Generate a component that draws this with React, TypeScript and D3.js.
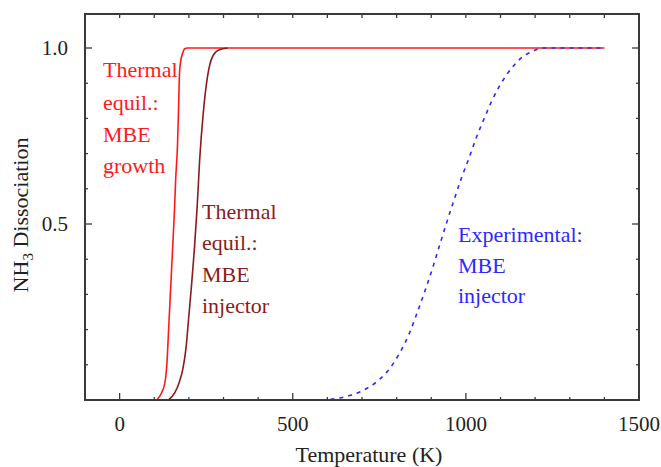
import React from "react";
import * as d3 from "d3";

// Temperature (K) / dissociation fraction pairs for each curve
const growthT = [107, 121, 131, 137, 141, 147, 153, 158, 162, 167, 170, 173, 176, 182, 188, 196, 1400];
const growthV = [0, 0.02, 0.05, 0.11, 0.19, 0.31, 0.43, 0.53, 0.63, 0.72, 0.82, 0.93, 0.96, 0.985, 0.998, 1.0, 1.0];

const injectorT = [141, 159, 172, 183, 192, 200, 208, 216, 224, 231, 242, 254, 268, 288, 312];
const injectorV = [0, 0.02, 0.05, 0.09, 0.15, 0.24, 0.33, 0.43, 0.55, 0.68, 0.82, 0.92, 0.975, 0.995, 1.0];

const expT = [583, 625, 669, 721, 750, 779, 808, 837, 860, 880, 903, 923, 940, 963, 987, 1010, 1030, 1053, 1076, 1096, 1113, 1134, 1160, 1191, 1220, 1395];
const expV = [0, 0.004, 0.014, 0.037, 0.058, 0.088, 0.132, 0.19, 0.25, 0.305, 0.372, 0.436, 0.49, 0.56, 0.63, 0.69, 0.745, 0.8, 0.852, 0.89, 0.917, 0.945, 0.972, 0.99, 1.0, 1.0];

const xMajorTicks = [0, 500, 1000, 1500];
const xMinorTicks = d3.range(-100, 1501, 100);
const yMajorTicks = [0.5, 1.0];
const yMinorTicks = d3.range(1, 11).map((i) => i / 10);

const W = 661;
const H = 467;
const left = 85;
const right = 639;
const top = 14;
const bottom = 400;

const FONT = "Liberation Serif, Tinos, Times New Roman, DejaVu Serif, serif";

export default function App() {
  const x = d3.scaleLinear().domain([-100, 1500]).range([left, right]);
  const y = d3.scaleLinear().domain([0, 1.0966]).range([bottom, top]);

  const line = d3
    .line<[number, number]>()
    .x((d) => x(d[0]))
    .y((d) => y(d[1]))
    .curve(d3.curveMonotoneX);

  const zip = (a: number[], b: number[]) => a.map((t, i) => [t, b[i]] as [number, number]);

  const axisColor = "#3a3a3a";
  const majorLen = 7;
  const minorLen = 3;

  const red = "#ff1a1a";
  const darkRed = "#8a1c1c";
  const blue = "#2a2aff";

  const textStyle = { fontFamily: FONT };

  return (
    <svg width={W} height={H} style={{ position: "absolute", left: 0, top: 0, background: "#fff" }}>
      {/* curves */}
      <path d={line(zip(growthT, growthV)) || ""} fill="none" stroke={red} strokeWidth={1.6} />
      <path d={line(zip(injectorT, injectorV)) || ""} fill="none" stroke={darkRed} strokeWidth={1.6} />
      <path
        d={line(zip(expT, expV)) || ""}
        fill="none"
        stroke={blue}
        strokeWidth={1.6}
        strokeDasharray="4 5"
      />

      {/* frame */}
      <rect x={left} y={top} width={right - left} height={bottom - top} fill="none" stroke={axisColor} strokeWidth={2} />

      {/* x ticks, bottom and top */}
      {xMinorTicks.map((t) => {
        const major = xMajorTicks.includes(t);
        const len = major ? majorLen : minorLen;
        return (
          <g key={"xt" + t}>
            <line x1={x(t)} x2={x(t)} y1={bottom} y2={bottom - len} stroke={axisColor} strokeWidth={1.3} />
            <line x1={x(t)} x2={x(t)} y1={top} y2={top + 4} stroke={axisColor} strokeWidth={1.3} />
          </g>
        );
      })}
      {/* y ticks, left and right */}
      {yMinorTicks.map((t) => {
        const major = yMajorTicks.some((m) => Math.abs(m - t) < 1e-9);
        const len = major ? majorLen : minorLen;
        return (
          <g key={"yt" + t}>
            <line x1={left} x2={left + len} y1={y(t)} y2={y(t)} stroke={axisColor} strokeWidth={1.3} />
            <line x1={right} x2={right - len} y1={y(t)} y2={y(t)} stroke={axisColor} strokeWidth={1.3} />
          </g>
        );
      })}

      {/* tick labels */}
      {xMajorTicks.map((t) => (
        <text key={"xl" + t} x={x(t)} y={431} textAnchor="middle" style={textStyle} fontSize={21} fill="#222">
          {t}
        </text>
      ))}
      {yMajorTicks.map((t) => (
        <text key={"yl" + t} x={68} y={y(t) + 7} textAnchor="end" style={textStyle} fontSize={21} fill="#222">
          {t.toFixed(1)}
        </text>
      ))}

      {/* axis titles */}
      <text x={369} y={462} textAnchor="middle" style={textStyle} fontSize={22} fill="#222">
        Temperature (K)
      </text>
      <text transform="translate(28,215) rotate(-90)" textAnchor="middle" style={textStyle} fontSize={22} fill="#222">
        NH
        <tspan fontSize={15} dy={5}>3</tspan>
        <tspan dy={-5}> Dissociation</tspan>
      </text>

      {/* annotations */}
      <g style={textStyle} fontSize={22} fill={red}>
        <text x={103} y={77}>Thermal</text>
        <text x={103} y={110}>equil.:</text>
        <text x={103} y={142}>MBE</text>
        <text x={103} y={173}>growth</text>
      </g>
      <g style={textStyle} fontSize={22} fill={darkRed}>
        <text x={202} y={219}>Thermal</text>
        <text x={202} y={250}>equil.:</text>
        <text x={202} y={282}>MBE</text>
        <text x={202} y={313}>injector</text>
      </g>
      <g style={textStyle} fontSize={22} fill={blue}>
        <text x={458} y={242}>Experimental:</text>
        <text x={458} y={273}>MBE</text>
        <text x={458} y={303}>injector</text>
      </g>
    </svg>
  );
}
